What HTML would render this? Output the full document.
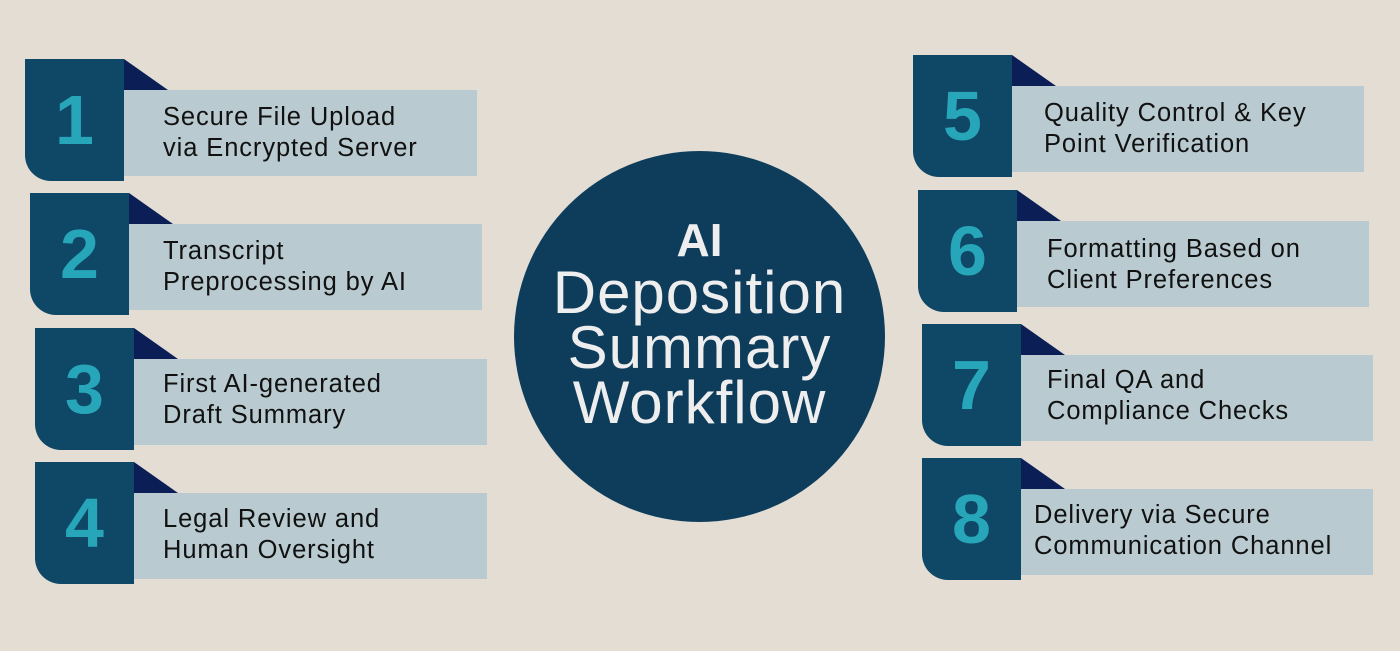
<!DOCTYPE html>
<html><head><meta charset="utf-8"><style>
body{margin:0;width:1400px;height:651px;background:#e4ddd4;position:relative;overflow:hidden;font-family:"Liberation Sans",sans-serif}
.box{position:absolute;width:99px;height:122px;background:#0f4766;border-radius:0 0 0 26px;color:#27a5b9;font-weight:bold;font-size:70px;display:flex;align-items:center;justify-content:center;z-index:2}
.tri{position:absolute;width:0;height:0;border-left:44px solid #0b1e56;border-top:31px solid transparent}
.bar{position:absolute;height:86px;width:353px;background:#b9cbd1}
.t{position:absolute;font-size:25.5px;line-height:31px;color:#111;letter-spacing:0.9px}
.c{position:absolute;left:514px;top:151px;width:371px;height:371px;border-radius:50%;background:#0e3d5c;color:#eeeeee;text-align:center}
</style></head><body>
<div class="c">
<div style="position:absolute;top:62px;width:100%;font-size:46px;font-weight:bold">AI</div>
<div style="position:absolute;top:114px;width:100%;font-size:60px;line-height:55px;letter-spacing:1px">Deposition<br>Summary<br>Workflow</div>
</div>

<div class="box" style="left:25px;top:59px">1</div><div class="tri" style="left:124px;top:59px"></div><div class="bar" style="left:124px;top:90px"></div><div class="t" style="left:163px;top:102px">Secure File Upload<br>via Encrypted Server</div>
<div class="box" style="left:30px;top:193px">2</div><div class="tri" style="left:129px;top:193px"></div><div class="bar" style="left:129px;top:224px"></div><div class="t" style="left:163px;top:236px">Transcript<br>Preprocessing by AI</div>
<div class="box" style="left:35px;top:328px">3</div><div class="tri" style="left:134px;top:328px"></div><div class="bar" style="left:134px;top:359px"></div><div class="t" style="left:163px;top:369px">First AI-generated<br>Draft Summary</div>
<div class="box" style="left:35px;top:462px">4</div><div class="tri" style="left:134px;top:462px"></div><div class="bar" style="left:134px;top:493px"></div><div class="t" style="left:163px;top:504px">Legal Review and<br>Human Oversight</div>

<div class="box" style="left:913px;top:55px">5</div><div class="tri" style="left:1012px;top:55px"></div><div class="bar" style="left:1011px;top:86px"></div><div class="t" style="left:1044px;top:98px">Quality Control &amp; Key<br>Point Verification</div>
<div class="box" style="left:918px;top:190px">6</div><div class="tri" style="left:1017px;top:190px"></div><div class="bar" style="left:1016px;top:221px"></div><div class="t" style="left:1047px;top:234px">Formatting Based on<br>Client Preferences</div>
<div class="box" style="left:922px;top:324px">7</div><div class="tri" style="left:1021px;top:324px"></div><div class="bar" style="left:1020px;top:355px"></div><div class="t" style="left:1047px;top:365px">Final QA and<br>Compliance Checks</div>
<div class="box" style="left:922px;top:458px">8</div><div class="tri" style="left:1021px;top:458px"></div><div class="bar" style="left:1020px;top:489px"></div><div class="t" style="left:1034px;top:500px">Delivery via Secure<br>Communication Channel</div>
</body></html>
